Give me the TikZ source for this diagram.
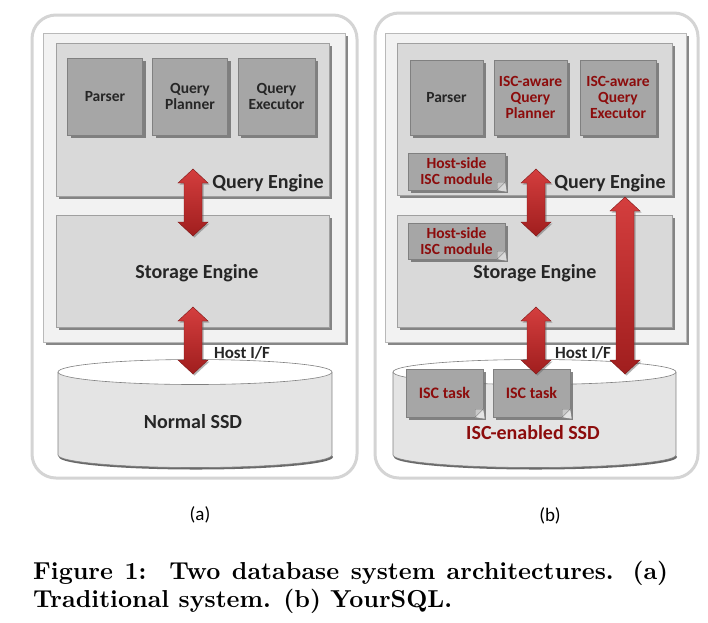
\documentclass[tikz,border=0pt]{standalone}
\usepackage{fontspec}
\newfontfamily\calibri{Carlito}
\newfontfamily\capfont{lmroman10-bold}[Extension=.otf]
\usepackage{tikz}
\usetikzlibrary{shadows,calc,positioning}

\definecolor{panelline}{RGB}{212,212,212}
\definecolor{hostfill}{RGB}{242,242,242}
\definecolor{hostline}{RGB}{185,185,185}
\definecolor{enginefill}{RGB}{217,217,217}
\definecolor{engineline}{RGB}{160,160,160}
\definecolor{modfill}{RGB}{166,166,166}
\definecolor{modline}{RGB}{128,128,128}
\definecolor{modfold}{RGB}{200,200,200}
\definecolor{txtgray}{RGB}{38,38,38}
\definecolor{iscred}{RGB}{140,12,12}
\definecolor{arrowtop}{RGB}{212,62,62}
\definecolor{arrowbot}{RGB}{160,30,30}
\definecolor{cylfill}{RGB}{228,228,228}
\definecolor{shadowgray}{RGB}{105,105,105}

% double block arrow from top point to bottom point
\newcommand{\blockarrow}[2]{%
  \path[bigarrow] let \p1=(#1), \p2=(#2) in
    (\x1,\y1) -- (\x1+15pt,\y1-14pt) -- (\x1+9pt,\y1-14pt) -- (\x1+9pt,\y2+14pt)
    -- (\x1+15pt,\y2+14pt) -- (\x1,\y2) -- (\x1-15pt,\y2+14pt) -- (\x1-9pt,\y2+14pt)
    -- (\x1-9pt,\y1-14pt) -- (\x1-15pt,\y1-14pt) -- cycle;}
% folded corner of a module box
\newcommand{\dogear}[2]{%
  \fill[#2] ([xshift=-8pt]#1.south east) -- ([xshift=1.5pt,yshift=-1.5pt]#1.south east) -- ([yshift=8pt]#1.south east) -- cycle;
  \filldraw[draw=modline, fill=modfold] ([xshift=-8pt]#1.south east) -- ([yshift=8pt]#1.south east) -- ([xshift=-8pt,yshift=8pt]#1.south east) -- cycle;}

\begin{document}
\begin{tikzpicture}[x=1pt, y=-1pt,
    boxshadow/.style={drop shadow={shadow xshift=3pt, shadow yshift=-3pt, fill=shadowgray, opacity=0.8}},
    panel/.style={draw=panelline, line width=3pt, fill=white, rounded corners=24pt, inner sep=0pt},
    hostbox/.style={draw=hostline, fill=hostfill, boxshadow, inner sep=0pt},
    engine/.style={draw=engineline, fill=enginefill, boxshadow, inner sep=0pt},
    module/.style={draw=modline, fill=modfill, boxshadow, inner sep=0pt, align=center, text=txtgray,
        font=\calibri\bfseries\fontsize{15.5}{16}\selectfont},
    iscmod/.style={module, text=iscred},
    biglabel/.style={font=\calibri\bfseries\fontsize{20}{22}\selectfont, text=txtgray, inner sep=0pt},
    iflabel/.style={font=\calibri\bfseries\fontsize{17}{19}\selectfont, text=txtgray, inner sep=0pt},
    sublabel/.style={font=\calibri\fontsize{19}{21}\selectfont, text=black, inner sep=0pt},
    bigarrow/.style={top color=arrowtop, bottom color=arrowbot, draw=arrowbot!80!black, line width=0.4pt,
        drop shadow={shadow xshift=1.5pt, shadow yshift=-1.5pt, fill=shadowgray, opacity=0.5}},
    cylline/.style={draw=modline, line width=0.6pt}]
  \useasboundingbox[fill=white] (0,0) rectangle (708,622);

  % (a) traditional system
  \node[panel, minimum width=325, minimum height=463] (panelA) at (194.5,246.5) {};
  \node[hostbox, minimum width=302, minimum height=309] (hostA) at (194,187.5) {};
  \node[engine, minimum width=273, minimum height=153] (queryA) at (192.5,119.5) {};
  \node[engine, minimum width=273, minimum height=112] (storageA) at (192.5,271) {};
  \node[module, minimum width=75, minimum height=77] (parserA) at (105,96.5) {Parser};
  \node[module, minimum width=75, minimum height=77] (plannerA) at (190,96.5) {Query\\Planner};
  \node[module, minimum width=77, minimum height=77] (executorA) at (276.5,96.5) {Query\\Executor};
  \node[biglabel] (qlabelA) at (268,183) {Query Engine};
  \node[biglabel] (slabelA) at (197,273) {Storage Engine};

  % normal SSD
  \fill[cylfill] (58,372) rectangle (332,455);
  \fill[shadowgray] (196,457) ellipse [x radius=137, y radius=12.5];
  \fill[cylfill] (195,455) ellipse [x radius=137, y radius=12.5];
  \draw[cylline] (58,372) -- (58,455) arc [start angle=180, end angle=0, x radius=137, y radius=12.5] -- (332,372);
  \draw[cylline, fill=white] (195,372) ellipse [x radius=137, y radius=12.5];
  \node[biglabel] (ssdA) at (193,422) {Normal SSD};

  % arrows of (a)
  \coordinate (qoutA) at (193,169);
  \coordinate (sinA) at (193,236);
  \coordinate (soutA) at (193,307);
  \coordinate (dinA) at (193,374);
  \blockarrow{qoutA}{sinA}
  \blockarrow{soutA}{dinA}
  \node[iflabel] (hifA) at (242,353) {Host I/F};
  \node[sublabel] (capA) at (200,515) {(a)};

  % (b) YourSQL
  \node[panel, minimum width=323, minimum height=465] (panelB) at (536.5,245.5) {};
  \node[hostbox, minimum width=301, minimum height=309] (hostB) at (535.5,187.5) {};
  \node[engine, minimum width=275, minimum height=152] (queryB) at (534.5,119) {};
  \node[engine, minimum width=275, minimum height=112] (storageB) at (534.5,271) {};
  \node[module, minimum width=73, minimum height=75] (parserB) at (446.5,97.5) {Parser};
  \node[iscmod, minimum width=73, minimum height=75] (plannerB) at (530.5,97.5) {ISC-aware\\Query\\Planner};
  \node[iscmod, minimum width=76, minimum height=75] (executorB) at (618,97.5) {ISC-aware\\Query\\Executor};
  \node[iscmod, minimum width=97, minimum height=37] (hiscQ) at (456.5,171.5) {Host-side\\ISC module};
  \dogear{hiscQ}{enginefill}
  \node[iscmod, minimum width=97, minimum height=36] (hiscS) at (456.5,241) {Host-side\\ISC module};
  \dogear{hiscS}{enginefill}
  \node[biglabel] (qlabelB) at (610,183) {Query Engine};
  \node[biglabel] (slabelB) at (535,273) {Storage Engine};

  % ISC-enabled SSD
  \fill[cylfill] (393,372) rectangle (676,455);
  \fill[shadowgray] (535.5,457) ellipse [x radius=141.5, y radius=12.5];
  \fill[cylfill] (534.5,455) ellipse [x radius=141.5, y radius=12.5];
  \draw[cylline] (393,372) -- (393,455) arc [start angle=180, end angle=0, x radius=141.5, y radius=12.5] -- (676,372);
  \draw[cylline, fill=white] (534.5,372) ellipse [x radius=141.5, y radius=12.5];
  \node[iscmod, minimum width=77, minimum height=48, font=\calibri\bfseries\fontsize{16}{17}\selectfont] (taskB1) at (444.5,393) {ISC task};
  \dogear{taskB1}{cylfill}
  \node[iscmod, minimum width=77, minimum height=48, font=\calibri\bfseries\fontsize{16}{17}\selectfont] (taskB2) at (531.5,393) {ISC task};
  \dogear{taskB2}{cylfill}
  \node[biglabel, text=iscred] (ssdB) at (533,433) {ISC-enabled SSD};

  % arrows of (b)
  \coordinate (qoutB) at (536,169);
  \coordinate (sinB) at (536,236);
  \coordinate (soutB) at (536,307);
  \coordinate (dinB) at (536,374);
  \coordinate (qdirB) at (625,197);
  \coordinate (ddirB) at (625,374);
  \blockarrow{qoutB}{sinB}
  \blockarrow{soutB}{dinB}
  \blockarrow{qdirB}{ddirB}
  \node[iflabel] (hifB) at (583,353) {Host I/F};
  \node[sublabel] (capB) at (550,516) {(b)};

  % figure caption
  \node[anchor=north west, text width=635pt, align=justify, inner sep=0pt,
        font=\capfont\fontsize{24.5}{28}\selectfont] (caption) at (33,561)
    {Figure 1:\ \ Two database system architectures. (a)\linebreak Traditional system. (b) YourSQL.};
\end{tikzpicture}
\end{document}
